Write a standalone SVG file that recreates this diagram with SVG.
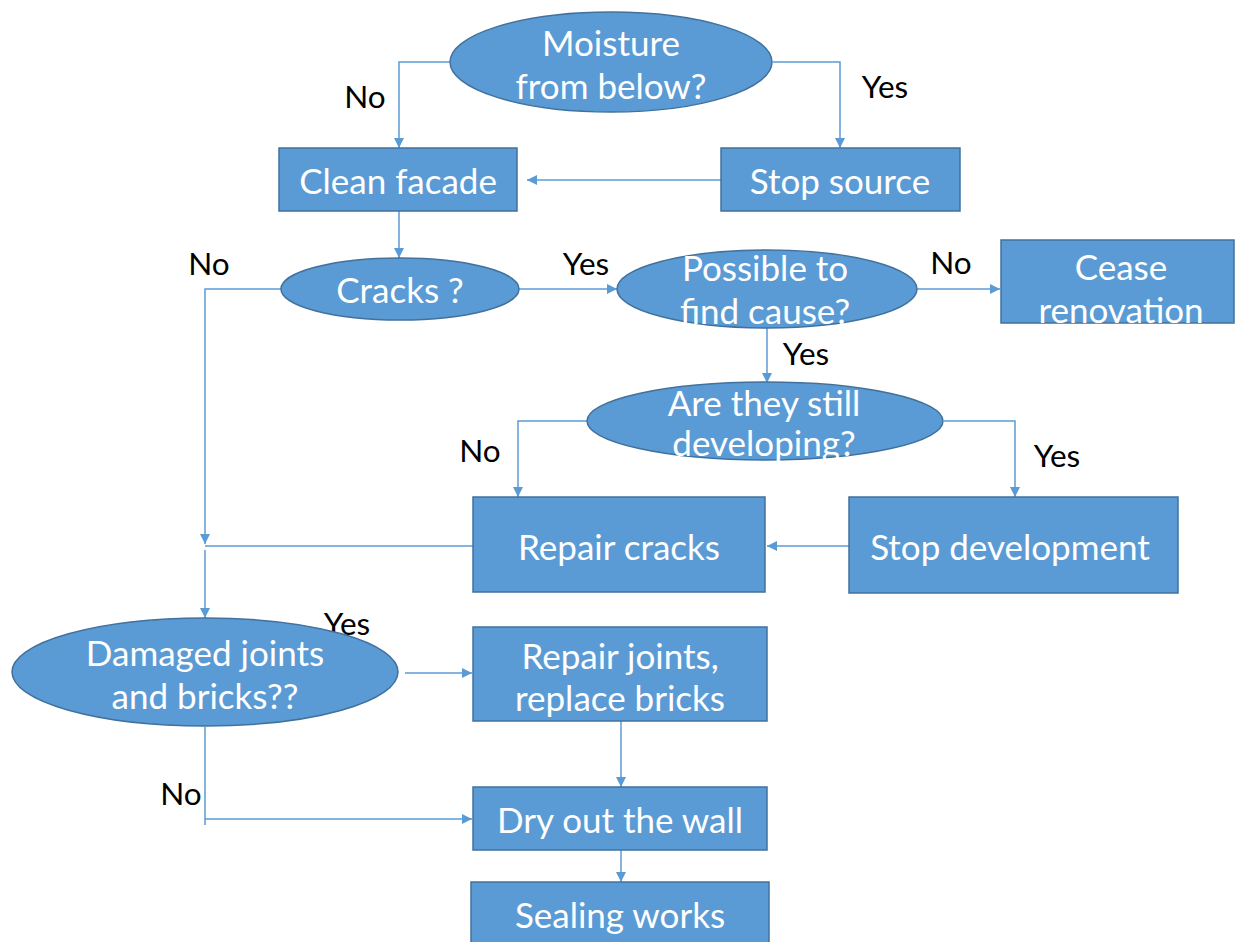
<svg xmlns="http://www.w3.org/2000/svg" width="1235" height="942" viewBox="0 0 1235 942">
<style>
.n{fill:#5B9BD5;stroke:#41719C;stroke-width:1.5}
.t{font-family:Lato,"Open Sans",sans-serif;font-size:35px;fill:#fff;text-anchor:middle;dominant-baseline:central}
.l{font-family:Lato,"Open Sans",sans-serif;font-size:31.5px;fill:#000;text-anchor:middle;dominant-baseline:central}
.c{fill:none;stroke:#5B9BD5;stroke-width:1.5}
</style>
<defs>
<marker id="a" viewBox="0 0 10 10" refX="10" refY="5" markerWidth="10" markerHeight="10" markerUnits="userSpaceOnUse" orient="auto">
<path d="M0,0 L10,5 L0,10 Z" fill="#5B9BD5"/>
</marker>
</defs>
<rect width="1235" height="942" fill="#fff"/>
<g id="connectors">
<path class="c" d="M450,62 H399 V148" marker-end="url(#a)"/>
<path class="c" d="M773,62 H840 V148" marker-end="url(#a)"/>
<path class="c" d="M721,180 H527" marker-end="url(#a)"/>
<path class="c" d="M399,211 V258" marker-end="url(#a)"/>
<path class="c" d="M281,289 H205 V544" marker-end="url(#a)"/>
<path class="c" d="M473,546 H205"/>
<path class="c" d="M205,550 V618" marker-end="url(#a)"/>
<path class="c" d="M519,289 H617" marker-end="url(#a)"/>
<path class="c" d="M917,289 H1000" marker-end="url(#a)"/>
<path class="c" d="M767,328 V383" marker-end="url(#a)"/>
<path class="c" d="M587,421 H518 V497" marker-end="url(#a)"/>
<path class="c" d="M944,421 H1015 V497" marker-end="url(#a)"/>
<path class="c" d="M849,546 H767" marker-end="url(#a)"/>
<path class="c" d="M405,673 H472" marker-end="url(#a)"/>
<path class="c" d="M621,721 V787" marker-end="url(#a)"/>
<path class="c" d="M205,727 V825 M205,819 H472" marker-end="url(#a)"/>
<path class="c" d="M621,850 V882" marker-end="url(#a)"/>
</g>
<g id="labels">
<text class="l" x="365" y="96">No</text>
<text class="l" x="885" y="86">Yes</text>
<text class="l" x="209" y="263">No</text>
<text class="l" x="586" y="263">Yes</text>
<text class="l" x="951" y="262">No</text>
<text class="l" x="806" y="353">Yes</text>
<text class="l" x="480" y="450">No</text>
<text class="l" x="1057" y="455">Yes</text>
<text class="l" x="347" y="623">Yes</text>
<text class="l" x="181" y="793">No</text>
</g>
<g id="moisture">
<ellipse class="n" cx="611" cy="62" rx="161" ry="50"/>
<text class="t" x="611" y="42">Moisture</text>
<text class="t" x="611" y="85">from below?</text>
</g>
<g id="clean">
<rect class="n" x="279" y="148" width="238" height="63"/>
<text class="t" x="398" y="180">Clean facade</text>
</g>
<g id="stop-source">
<rect class="n" x="721" y="148" width="239" height="63"/>
<text class="t" x="840" y="180">Stop source</text>
</g>
<g id="cracks">
<ellipse class="n" cx="400" cy="289" rx="119" ry="31"/>
<text class="t" x="400" y="289">Cracks ?</text>
</g>
<g id="possible">
<ellipse class="n" cx="767" cy="289" rx="150" ry="39"/>
<text class="t" x="765" y="267">Possible to</text>
<text class="t" x="765" y="310">find cause?</text>
</g>
<g id="cease">
<rect class="n" x="1001" y="240" width="233" height="83"/>
<text class="t" x="1121" y="266">Cease</text>
<text class="t" x="1121" y="309">renovation</text>
</g>
<g id="developing">
<ellipse class="n" cx="765" cy="421" rx="178" ry="39"/>
<text class="t" x="764" y="402">Are they still</text>
<text class="t" x="764" y="442">developing?</text>
</g>
<g id="repair-cracks">
<rect class="n" x="473" y="497" width="292" height="95"/>
<text class="t" x="619" y="546">Repair cracks</text>
</g>
<g id="stop-development">
<rect class="n" x="849" y="497" width="329" height="96"/>
<text class="t" x="1010" y="546">Stop development</text>
</g>
<g id="damaged">
<ellipse class="n" cx="205" cy="672" rx="193" ry="54"/>
<text class="t" x="205" y="652">Damaged joints</text>
<text class="t" x="205" y="695">and bricks??</text>
</g>
<g id="repair-joints">
<rect class="n" x="473" y="627" width="294" height="94"/>
<text class="t" x="620" y="655">Repair joints,</text>
<text class="t" x="620" y="697">replace bricks</text>
</g>
<g id="dry">
<rect class="n" x="473" y="787" width="294" height="63"/>
<text class="t" x="620" y="819">Dry out the wall</text>
</g>
<g id="sealing">
<rect class="n" x="471" y="882" width="298" height="64"/>
<text class="t" x="620" y="914">Sealing works</text>
</g>
</svg>
